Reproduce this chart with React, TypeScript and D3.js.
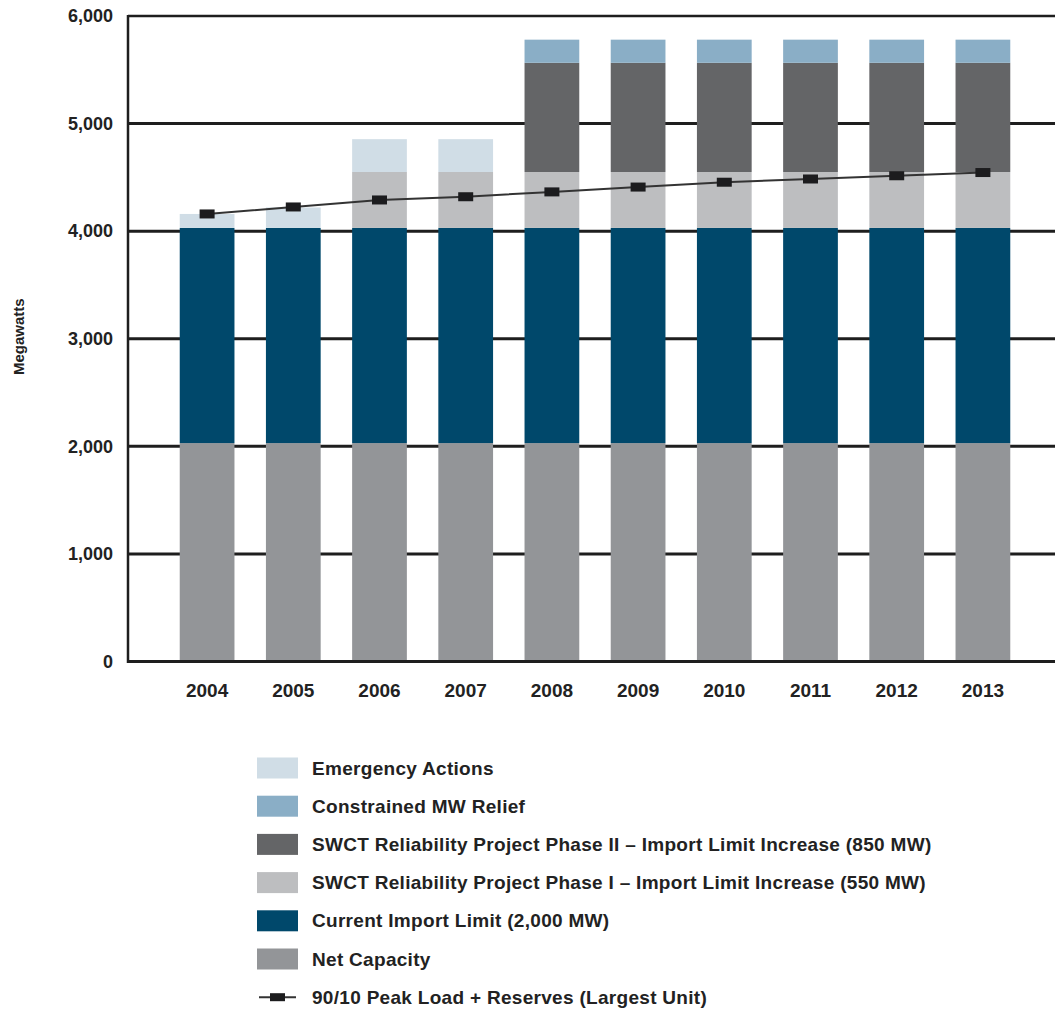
import React from "react";
import * as d3 from "d3";

const years = ["2004", "2005", "2006", "2007", "2008", "2009", "2010", "2011", "2012", "2013"];
const netCapacity = [2030, 2030, 2030, 2030, 2030, 2030, 2030, 2030, 2030, 2030];
const currentImport = [2000, 2000, 2000, 2000, 2000, 2000, 2000, 2000, 2000, 2000];
const phaseI = [0, 0, 520, 520, 520, 520, 520, 520, 520, 520];
const phaseII = [0, 0, 0, 0, 1015, 1015, 1015, 1015, 1015, 1015];
const constrainedRelief = [0, 0, 0, 0, 215, 215, 215, 215, 215, 215];
const emergencyActions = [130, 190, 305, 305, 0, 0, 0, 0, 0, 0];
const peakLoad = [4160, 4225, 4290, 4320, 4365, 4410, 4455, 4485, 4515, 4545];
const yTicks = [0, 1000, 2000, 3000, 4000, 5000, 6000];

const seriesNames = [
  "Net Capacity",
  "Current Import Limit (2,000 MW)",
  "SWCT Reliability Project Phase I – Import Limit Increase (550 MW)",
  "SWCT Reliability Project Phase II – Import Limit Increase (850 MW)",
  "Constrained MW Relief",
  "Emergency Actions",
];
const seriesColors = ["#939598", "#00486b", "#bdbec0", "#646567", "#8aaec6", "#d0dde6"];
const lineName = "90/10 Peak Load + Reserves (Largest Unit)";

export default function App() {
  const W = 1055;
  const H = 1010;
  const x0 = 128;
  const x1 = 1055;
  const yScale = d3.scaleLinear().domain([0, 6000]).range([661.5, 16]);
  const xScale = d3
    .scaleBand<string>()
    .domain(years)
    .range([164, 1026])
    .paddingInner(0.365)
    .paddingOuter(0.1825);

  const rows = years.map((y, i) => ({
    year: y,
    v: [netCapacity[i], currentImport[i], phaseI[i], phaseII[i], constrainedRelief[i], emergencyActions[i]],
  }));
  const stack = d3
    .stack<any>()
    .keys([0, 1, 2, 3, 4, 5] as any)
    .value((d: any, k: any) => d.v[k]);
  const stacked = stack(rows);

  const line = d3
    .line<number>()
    .x((_, i) => (xScale(years[i]) as number) + xScale.bandwidth() / 2)
    .y((d) => yScale(d));

  const font = "'Liberation Sans', Arial, Helvetica, sans-serif";
  const legendOrder = [5, 4, 3, 2, 1, 0];
  const legendY0 = 768;
  const legendStep = 38.2;

  return (
    <svg
      width={W}
      height={H}
      style={{ position: "absolute", left: 0, top: 0, background: "#fff" }}
      fontFamily={font}
    >
      {yTicks.map((t) => (
        <line
          key={t}
          x1={x0}
          x2={x1}
          y1={yScale(t)}
          y2={yScale(t)}
          stroke="#1e1e1e"
          strokeWidth={t === 6000 ? 2.5 : 3}
        />
      ))}
      {stacked.map((layer, li) => (
        <g key={li} fill={seriesColors[li]}>
          {layer.map((d, i) =>
            d[1] - d[0] > 0 ? (
              <rect
                key={i}
                x={xScale(years[i])}
                width={xScale.bandwidth()}
                y={yScale(d[1])}
                height={yScale(d[0]) - yScale(d[1])}
              />
            ) : null
          )}
        </g>
      ))}
      <line x1={x0} x2={x1} y1={yScale(0)} y2={yScale(0)} stroke="#1e1e1e" strokeWidth={3} />
      <line x1={x0} x2={x0} y1={yScale(6000) - 1} y2={yScale(0) + 1.5} stroke="#1e1e1e" strokeWidth={2.5} />
      {yTicks.map((t) => (
        <text
          key={t}
          x={113}
          y={yScale(t)}
          dy="0.35em"
          textAnchor="end"
          fontSize={18}
          fontWeight="bold"
          fill="#222"
        >
          {d3.format(",")(t)}
        </text>
      ))}
      {years.map((y) => (
        <text
          key={y}
          x={(xScale(y) as number) + xScale.bandwidth() / 2}
          y={697}
          textAnchor="middle"
          fontSize={19}
          fontWeight="bold"
          fill="#222"
        >
          {y}
        </text>
      ))}
      <text
        transform={`translate(24, ${yScale(3000) - 2}) rotate(-90)`}
        textAnchor="middle"
        fontSize={15}
        fontWeight="bold"
        fill="#222"
      >
        Megawatts
      </text>
      <path d={line(peakLoad) || ""} fill="none" stroke="#333" strokeWidth={2} />
      {peakLoad.map((v, i) => (
        <rect
          key={i}
          x={(xScale(years[i]) as number) + xScale.bandwidth() / 2 - 7.5}
          y={yScale(v) - 4.5}
          width={15}
          height={9}
          fill="#1c1c1e"
        />
      ))}
      {legendOrder.map((si, k) => {
        const cy = legendY0 + k * legendStep;
        return (
          <g key={si}>
            <rect x={257} y={cy - 10.5} width={41} height={21} fill={seriesColors[si]} />
            <text x={312} y={cy} dy="0.35em" fontSize={19} fontWeight="bold" letterSpacing={0.3} fill="#222">
              {seriesNames[si]}
            </text>
          </g>
        );
      })}
      {(() => {
        const cy = legendY0 + 6 * legendStep;
        return (
          <g>
            <line x1={259} x2={296} y1={cy} y2={cy} stroke="#333" strokeWidth={2} />
            <rect x={270} y={cy - 4} width={15} height={8} fill="#1c1c1e" />
            <text x={312} y={cy} dy="0.35em" fontSize={19} fontWeight="bold" letterSpacing={0.3} fill="#222">
              {lineName}
            </text>
          </g>
        );
      })()}
    </svg>
  );
}
